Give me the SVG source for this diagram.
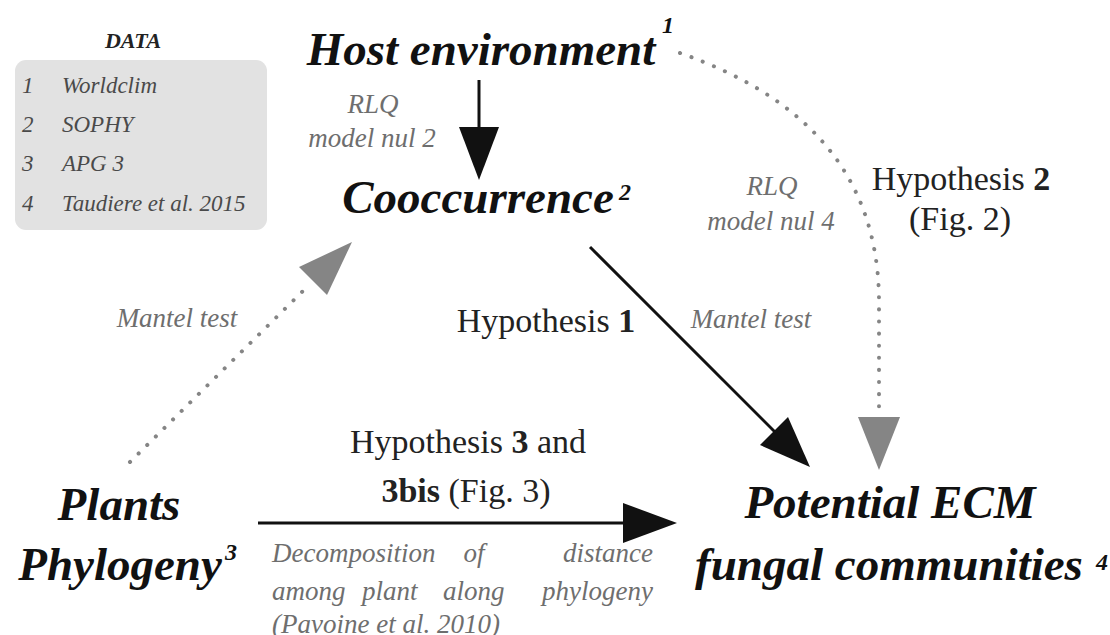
<svg xmlns="http://www.w3.org/2000/svg" width="1110" height="635" viewBox="0 0 1110 635">
  <style>
    text { font-family: "Liberation Serif", "Times New Roman", serif; }
    .node { font-size: 47px; font-weight: bold; font-style: italic; fill: #111; text-anchor: middle; }
    .sup { font-size: 24px; font-weight: bold; font-style: italic; fill: #111; }
    .hyp { font-size: 34px; fill: #222; text-anchor: middle; }
    .hyp tspan.b { font-weight: bold; }
    .note { font-size: 27px; font-style: italic; fill: #6e6e6e; }
    .mid { text-anchor: middle; }
    .end { text-anchor: end; }
    .data-title { font-size: 22px; font-weight: bold; font-style: italic; fill: #222; text-anchor: middle; }
    .data-item { font-size: 23px; font-style: italic; fill: #4a4a4a; }
    .solid { fill: none; stroke: #111; stroke-width: 3; }
    .dotted { fill: none; stroke: #858585; stroke-width: 4; stroke-linecap: round; stroke-dasharray: 0.1 12; }
    .head-black { fill: #111; }
    .head-grey { fill: #858585; }
  </style>

  <rect width="1110" height="635" fill="#ffffff"/>

  <!-- data sources legend -->
  <g id="data-legend">
    <text class="data-title" x="133" y="48">DATA</text>
    <rect x="15" y="60" width="252" height="170" rx="11" fill="#e2e2e2"/>
    <text class="data-item" x="22" y="93">1</text>
    <text class="data-item" x="62" y="93">Worldclim</text>
    <text class="data-item" x="22" y="132">2</text>
    <text class="data-item" x="62" y="132">SOPHY</text>
    <text class="data-item" x="22" y="171">3</text>
    <text class="data-item" x="62" y="171">APG 3</text>
    <text class="data-item" x="22" y="211">4</text>
    <text class="data-item" x="62" y="211">Taudiere et al. 2015</text>
  </g>

  <!-- connectors -->
  <g id="connectors">
    <!-- Host environment -> Cooccurrence -->
    <line class="solid" x1="479" y1="80" x2="479" y2="130"/>
    <polygon class="head-black" points="459,127 499,127 479,180"/>

    <!-- Cooccurrence -> Potential ECM -->
    <line class="solid" x1="590" y1="247" x2="780" y2="437"/>
    <polygon class="head-black" points="788,417 760,445 810,467"/>

    <!-- Plants Phylogeny -> Potential ECM -->
    <line class="solid" x1="258" y1="523" x2="628" y2="523"/>
    <polygon class="head-black" points="623,503 623,543 677,523"/>

    <!-- Plants Phylogeny -> Cooccurrence (dotted) -->
    <line class="dotted" x1="130" y1="462" x2="310" y2="284"/>
    <polygon class="head-grey" points="299,267 327,295 352,242"/>

    <!-- Host environment -> Potential ECM (dotted curve) -->
    <path class="dotted" d="M680,53 C800,95 878,170 879,300 L879,414"/>
    <polygon class="head-grey" points="858,417 900,417 879,470"/>
  </g>

  <!-- connector labels -->
  <g id="labels">
    <text class="note mid" x="373" y="113">RLQ</text>
    <text class="note mid" x="372" y="147">model nul 2</text>

    <text class="note mid" x="772" y="195">RLQ</text>
    <text class="note mid" x="771" y="230">model nul 4</text>

    <text class="note mid" x="177" y="327">Mantel test</text>
    <text class="note mid" x="751" y="328">Mantel test</text>

    <text class="hyp" x="546" y="332">Hypothesis <tspan class="b">1</tspan></text>
    <text class="hyp" x="961" y="190">Hypothesis <tspan class="b">2</tspan></text>
    <text class="hyp" x="960" y="230">(Fig. 2)</text>
    <text class="hyp" x="468" y="453">Hypothesis <tspan class="b">3</tspan> and</text>
    <text class="hyp" x="466" y="502"><tspan class="b">3bis</tspan> (Fig. 3)</text>

    <!-- justified caption under the horizontal arrow -->
    <text class="note" x="272" y="562">Decomposition</text>
    <text class="note mid" x="474" y="562">of</text>
    <text class="note end" x="653" y="562">distance</text>
    <text class="note" x="272" y="600">among</text>
    <text class="note" x="362" y="600">plant</text>
    <text class="note" x="443" y="600">along</text>
    <text class="note end" x="653" y="600">phylogeny</text>
    <text class="note" x="272" y="633">(Pavoine et al. 2010)</text>
  </g>

  <g id="host-environment">
    <text class="node" x="481" y="65">Host environment</text>
    <text class="sup" x="662" y="33">1</text>
  </g>

  <g id="cooccurrence">
    <text class="node" x="478" y="213">Cooccurrence</text>
    <text class="sup" x="619" y="200">2</text>
  </g>

  <g id="plants-phylogeny">
    <text class="node" x="119" y="520">Plants</text>
    <text class="node" x="120" y="580">Phylogeny</text>
    <text class="sup" x="225" y="560">3</text>
  </g>

  <g id="potential-ecm">
    <text class="node" x="890" y="518">Potential ECM</text>
    <text class="node" x="889" y="580">fungal communities</text>
    <text class="sup" x="1096" y="570">4</text>
  </g>
</svg>
